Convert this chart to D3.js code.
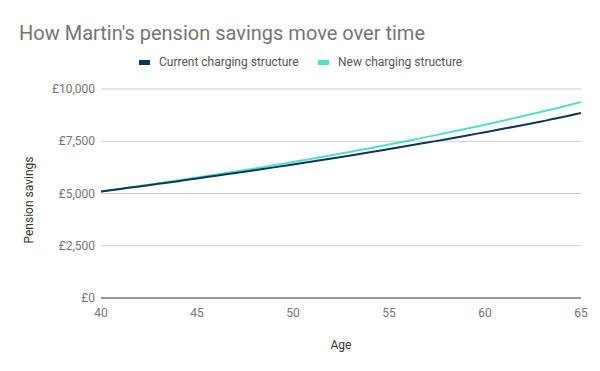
<!DOCTYPE html>
<html>
<head>
<meta charset="utf-8">
<script src="https://cdn.jsdelivr.net/npm/d3@7"></script>
<style>
  body { margin: 0; background: #fff; }
  text { font-family: Roboto, "Open Sans", sans-serif; }
</style>
</head>
<body>
<div id="chart"></div>
<script>
var ages = d3.range(40, 66);

var currentCharging = [5100, 5220, 5340, 5465, 5590, 5720, 5850, 5980, 6115, 6250,
  6390, 6530, 6675, 6820, 6970, 7125, 7280, 7440, 7600, 7765,
  7935, 8105, 8280, 8460, 8645, 8850];

var newCharging = [5100, 5225, 5355, 5490, 5625, 5765, 5905, 6050, 6200, 6350,
  6505, 6665, 6830, 7000, 7170, 7345, 7525, 7710, 7900, 8095,
  8290, 8495, 8705, 8920, 9140, 9380];

var seriesNames = ["Current charging structure", "New charging structure"];
var seriesColors = ["#0c3758", "#52e0c4"];
var yTicks = [0, 2500, 5000, 7500, 10000];
var xTicks = [40, 45, 50, 55, 60, 65];

var width = 600, height = 371;
var margin = { top: 89, right: 19, bottom: 73, left: 101 };

var svg = d3.select("#chart").append("svg")
  .attr("width", width)
  .attr("height", height);

var x = d3.scaleLinear()
  .domain([40, 65])
  .range([margin.left, width - margin.right]);

var y = d3.scaleLinear()
  .domain([0, 10000])
  .range([height - margin.bottom, margin.top]);

var fmt = function (d) { return "£" + d3.format(",")(d); };

// title
svg.append("text")
  .attr("x", 19)
  .attr("y", 40)
  .attr("font-size", 20)
  .attr("fill", "#757575")
  .text("How Martin's pension savings move over time");

// gridlines
svg.append("g")
  .selectAll("line")
  .data(yTicks.filter(function (d) { return d > 0; }))
  .enter().append("line")
  .attr("x1", x(40))
  .attr("x2", x(65))
  .attr("y1", function (d) { return y(d); })
  .attr("y2", function (d) { return y(d); })
  .attr("stroke", "#cccccc")
  .attr("stroke-width", 1);

// y labels
svg.append("g")
  .selectAll("text")
  .data(yTicks)
  .enter().append("text")
  .attr("x", x(40) - 6)
  .attr("y", function (d) { return y(d); })
  .attr("dy", "0.35em")
  .attr("text-anchor", "end")
  .attr("font-size", 12)
  .attr("fill", "#757575")
  .text(fmt);

// x labels
svg.append("g")
  .selectAll("text")
  .data(xTicks)
  .enter().append("text")
  .attr("x", function (d) { return x(d); })
  .attr("y", y(0) + 19)
  .attr("text-anchor", "middle")
  .attr("font-size", 12)
  .attr("fill", "#757575")
  .text(function (d) { return d; });

// baseline
svg.append("line")
  .attr("x1", x(40))
  .attr("x2", x(65))
  .attr("y1", y(0))
  .attr("y2", y(0))
  .attr("stroke", "#333")
  .attr("stroke-width", 1);

// axis titles
svg.append("text")
  .attr("x", (x(40) + x(65)) / 2)
  .attr("y", 349)
  .attr("text-anchor", "middle")
  .attr("font-size", 12)
  .attr("fill", "#333")
  .text("Age");

svg.append("text")
  .attr("transform", "translate(33,200)rotate(-90)")
  .attr("text-anchor", "middle")
  .attr("font-size", 12)
  .attr("fill", "#333")
  .text("Pension savings");

// lines
var line = d3.line()
  .x(function (d, i) { return x(ages[i]); })
  .y(function (d) { return y(d); })
  .curve(d3.curveMonotoneX);

[newCharging, currentCharging].forEach(function (s) {
  var idx = s === currentCharging ? 0 : 1;
  svg.append("path")
    .datum(s)
    .attr("fill", "none")
    .attr("stroke", seriesColors[idx])
    .attr("stroke-width", 2)
    .attr("d", line);
});

// legend
var legendX = [139, 318];
var legend = svg.append("g")
  .selectAll("g")
  .data(seriesNames)
  .enter().append("g")
  .attr("transform", function (d, i) { return "translate(" + legendX[i] + ",62)"; });

legend.append("rect")
  .attr("x", 0)
  .attr("y", -2)
  .attr("width", 11)
  .attr("height", 5)
  .attr("fill", function (d, i) { return seriesColors[i]; });

legend.append("text")
  .attr("x", 20)
  .attr("dy", "0.35em")
  .attr("font-size", 12)
  .attr("fill", "#555")
  .text(function (d) { return d; });
</script>
</body>
</html>
